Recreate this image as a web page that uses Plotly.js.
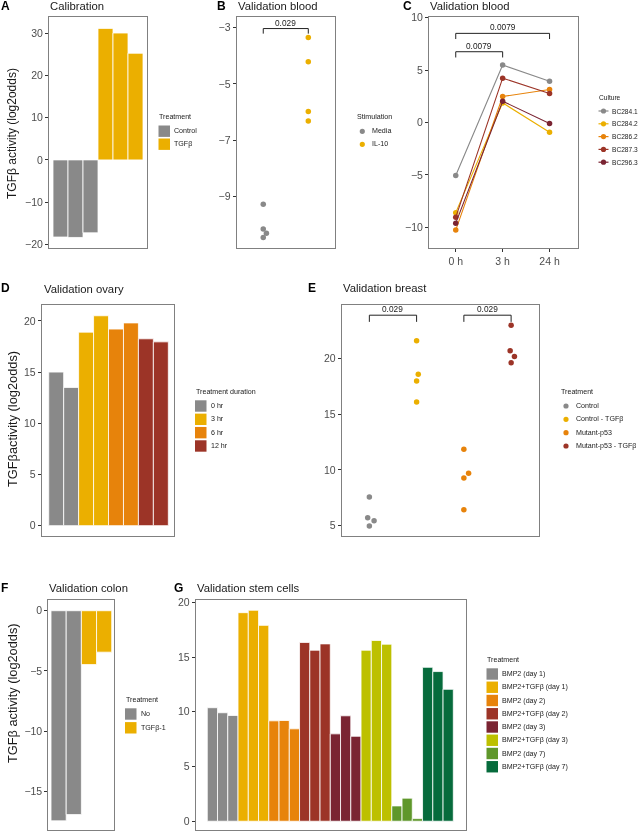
<!DOCTYPE html>
<html>
<head>
<meta charset="utf-8">
<script src="https://cdn.plot.ly/plotly-3.0.1.min.js"></script>
<style>
    html, body { margin: 0; padding: 0; background: #fff; }
    #chart { width: 640px; height: 831px; }
    #chart .main-svg { will-change: transform; }
</style>
</head>
<body>
<div id="chart"></div>
<script>
// A - calibration
const calibGroups = ['Control', 'TGFβ'];
const calibTreatment = ['Control', 'Control', 'Control', 'TGFβ', 'TGFβ', 'TGFβ'];
const calibActivity = [-18.3, -18.4, -17.3, 31.2, 30.1, 25.3];

// B - validation blood (IL-10)
const bloodStimulation = ['Media', 'IL-10'];
const bloodMedia = [-9.27, -10.15, -10.3, -10.45];
const bloodIL10 = [-3.36, -4.22, -5.98, -6.32];
const bloodMediaJitter = [0, 0, 0.07, 0];
const bloodIL10Jitter = [0, 0, 0, 0];
const bloodPValue = '0.029';

// C - validation blood time course
const timeLabels = ['0 h', '3 h', '24 h'];
const cultures = ['BC284.1', 'BC284.2', 'BC286.2', 'BC287.3', 'BC296.3'];
const bc2841 = [-5.05, 5.48, 3.93];
const bc2842 = [-8.6, 1.87, -0.93];
const bc2862 = [-10.26, 2.48, 3.15];
const bc2873 = [-9.05, 4.23, 2.77];
const bc2963 = [-9.6, 2.03, -0.1];
const timePValues = ['0.0079', '0.0079'];

// D - validation ovary
const ovaryGroups = ['0 hr', '3 hr', '6 hr', '12 hr'];
const ovaryDuration = ['0 hr', '0 hr', '3 hr', '3 hr', '6 hr', '6 hr', '12 hr', '12 hr'];
const ovaryActivity = [15.0, 13.5, 18.9, 20.5, 19.2, 19.8, 18.25, 17.95];

// E - validation breast
const breastGroups = ['Control', 'Control - TGFβ', 'Mutant-p53', 'Mutant-p53 - TGFβ'];
const breastControl = [7.58, 5.72, 5.45, 4.97];
const breastControlTGFb = [21.6, 18.6, 17.98, 16.1];
const breastMutant = [11.87, 9.71, 9.29, 6.44];
const breastMutantTGFb = [23.0, 20.7, 20.2, 19.63];
const breastJitter = [[0, -0.035, 0.1, 0], [0, 0.035, 0, 0], [0, 0.1, 0, 0], [0, -0.02, 0.07, 0]];
const breastPValues = ['0.029', '0.029'];

// F - validation colon
const colonGroups = ['No', 'TGFβ-1'];
const colonTreatment = ['No', 'No', 'TGFβ-1', 'TGFβ-1'];
const colonActivity = [-17.44, -16.92, -4.47, -3.44];

// G - validation stem cells (3 replicates per treatment)
const stemGroups = ['BMP2 (day 1)', 'BMP2+TGFβ (day 1)', 'BMP2 (day 2)', 'BMP2+TGFβ (day 2)',
    'BMP2 (day 3)', 'BMP2+TGFβ (day 3)', 'BMP2 (day 7)', 'BMP2+TGFβ (day 7)'];
const stemActivity = [10.37, 9.91, 9.66, 19.05, 19.27, 17.89, 9.17, 9.2, 8.44, 16.33, 15.62, 16.2,
    7.98, 9.63, 7.76, 15.62, 16.51, 16.17, 1.4, 2.11, 0.24, 14.06, 13.67, 12.05];
const stemTreatment = stemGroups.flatMap(g => [g, g, g]);

const grey = '#898989', yellow = '#EBAF00', orange = '#E7830B', red = '#9C3427',
    maroon = '#7A2432', lime = '#BDC000', olive = '#5F972B', green = '#066B3C';
const stemColors = [grey, yellow, orange, red, maroon, lime, olive, green];

const W = 640, H = 831;
const FONT = '"Liberation Sans", Arial, Helvetica, sans-serif';
const px = v => v / W;
const py = v => 1 - v / H;

const traces = [];
const shapes = [];
const annotations = [];
const layout = {
    width: W, height: H,
    margin: {l: 0, r: 0, t: 0, b: 0},
    paper_bgcolor: '#fff', plot_bgcolor: '#fff',
    showlegend: false, barmode: 'overlay',
    font: {family: FONT}
};

function text(x, y, str, size, opts) {
    annotations.push(Object.assign({
        xref: 'paper', yref: 'paper', x: px(x), y: py(y), text: str,
        showarrow: false, xanchor: 'left', yanchor: 'middle', borderpad: 0,
        font: {family: FONT, size: size, color: '#1a1a1a'}
    }, opts || {}));
}

function panel(n, xdom, ydom, xrange, yrange, yticks, xextra) {
    const s = n === 1 ? '' : String(n);
    layout['xaxis' + s] = Object.assign({
        domain: [px(xdom[0]), px(xdom[1])], range: xrange, anchor: 'y' + s,
        showline: true, mirror: true, linecolor: '#808080', linewidth: 1,
        showgrid: false, zeroline: false, showticklabels: false, ticks: '', fixedrange: true
    }, xextra || {});
    layout['yaxis' + s] = {
        domain: [py(ydom[1]), py(ydom[0])], range: yrange, anchor: 'x' + s,
        showline: true, mirror: true, linecolor: '#808080', linewidth: 1,
        showgrid: false, zeroline: false, fixedrange: true,
        tickmode: 'array', tickvals: yticks,
        ticks: 'outside', ticklen: 3, tickwidth: 1, tickcolor: '#333',
        tickfont: {family: FONT, size: 10.5, color: '#4d4d4d'}
    };
}

function bars(n, groups, treatment, values, colors) {
    const s = n === 1 ? '' : String(n);
    groups.forEach((g, gi) => {
        const idx = treatment.map((t, i) => t === g ? i : -1).filter(i => i >= 0);
        traces.push({
            type: 'bar', x: idx, y: idx.map(i => values[i]), width: 1,
            xaxis: 'x' + s, yaxis: 'y' + s, name: g,
            marker: {color: colors[gi], line: {color: '#fff', width: 0.8}}
        });
    });
}

function dots(n, pos, values, jitter, color, name) {
    const s = n === 1 ? '' : String(n);
    traces.push({
        type: 'scatter', mode: 'markers', name: name,
        x: values.map((v, i) => pos + jitter[i]), y: values,
        xaxis: 'x' + s, yaxis: 'y' + s,
        marker: {color: color, size: 5.5}
    });
}

function bracket(n, x0, x1, yTop, yEnd, str) {
    const s = n === 1 ? '' : String(n);
    const ln = {color: '#222', width: 1};
    [[x0, yEnd, x0, yTop], [x0, yTop, x1, yTop], [x1, yTop, x1, yEnd]].forEach(c => {
        shapes.push({type: 'line', xref: 'x' + s, yref: 'y' + s,
            x0: c[0], y0: c[1], x1: c[2], y1: c[3], line: ln});
    });
    annotations.push({
        xref: 'x' + s, yref: 'y' + s, x: (x0 + x1) / 2, y: yTop, text: str,
        showarrow: false, xanchor: 'center', yanchor: 'bottom', yshift: -1,
        font: {family: FONT, size: 8.3, color: '#1a1a1a'}
    });
}

// legend helpers (ggplot-like keys)
function legendRects(x, y0, step, labels, colors, title, titleY) {
    text(x - 0.5, titleY, title, 7.1);
    labels.forEach((l, i) => {
        const y = y0 + i * step;
        shapes.push({type: 'rect', xref: 'paper', yref: 'paper',
            x0: px(x), x1: px(x + 11.5), y0: py(y + 5.7), y1: py(y - 5.7),
            fillcolor: colors[i], line: {width: 0}});
        text(x + 14.5, y, l, 7.1);
    });
}

function legendDots(x, y0, step, labels, colors, title, titleY, withLine, size) {
    const fs = size || 7.1;
    text(x - 6, titleY, title, fs);
    labels.forEach((l, i) => {
        const y = y0 + i * step;
        const r = 2.6;
        if (withLine) {
            shapes.push({type: 'line', xref: 'paper', yref: 'paper',
                x0: px(x - 5), x1: px(x + 5), y0: py(y), y1: py(y),
                line: {color: colors[i], width: 1.2}});
        }
        shapes.push({type: 'circle', xref: 'paper', yref: 'paper',
            x0: px(x - r), x1: px(x + r), y0: py(y + r), y1: py(y - r),
            fillcolor: colors[i], line: {width: 0}});
        text(x + (withLine ? 7.5 : 9), y, l, fs);
    });
}

// ---- A ----
panel(1, [49, 147], [17, 248], [-0.767, 5.767], [-20.9, 33.9], [-20, -10, 0, 10, 20, 30]);
bars(1, calibGroups, calibTreatment, calibActivity, [grey, yellow]);
legendRects(158.5, 131.2, 13, calibGroups, [grey, yellow], 'Treatment', 117.3);

// ---- B ----
panel(2, [236.7, 335.3], [17, 248.3], [-0.59, 1.6], [-10.83, -2.63], [-9, -7, -5, -3]);
dots(2, 0, bloodMedia, bloodMediaJitter, grey, bloodStimulation[0]);
dots(2, 1, bloodIL10, bloodIL10Jitter, yellow, bloodStimulation[1]);
bracket(2, 0, 1, -3.04, -3.22, bloodPValue);
legendDots(362.3, 131.3, 13, bloodStimulation, [grey, yellow], 'Stimulation', 117.3, false);

// ---- C ----
const cultureSeries = [bc2841, bc2842, bc2862, bc2873, bc2963];
const cultureColors = [grey, yellow, orange, red, maroon];
panel(3, [429, 577.7], [16.7, 248.3], [-0.57, 2.6], [-12.0, 10.09], [-10, -5, 0, 5, 10], {
    showticklabels: true, tickmode: 'array', tickvals: [0, 1, 2], ticktext: timeLabels,
    ticks: 'outside', ticklen: 3, tickcolor: '#333',
    tickfont: {family: FONT, size: 10.5, color: '#4d4d4d'}
});
cultures.forEach((c, i) => {
    traces.push({
        type: 'scatter', mode: 'lines+markers', name: c,
        x: timeLabels.map((t, j) => j), y: cultureSeries[i],
        xaxis: 'x3', yaxis: 'y3',
        line: {color: cultureColors[i], width: 1.1},
        marker: {color: cultureColors[i], size: 5.5}
    });
});
bracket(3, 0, 2, 8.5, 7.96, timePValues[0]);
bracket(3, 0, 1, 6.75, 6.2, timePValues[1]);
legendDots(603.5, 111, 12.8, cultures, cultureColors, 'Culture', 97.2, true, 6.6);

// ---- D ----
panel(4, [41.7, 174.3], [304.5, 535.7], [-0.97, 7.9], [-0.98, 21.6], [0, 5, 10, 15, 20]);
bars(4, ovaryGroups, ovaryDuration, ovaryActivity, [grey, yellow, orange, red]);
legendRects(195, 406, 13.33, ovaryGroups, [grey, yellow, orange, red], 'Treatment duration', 392.3);

// ---- E ----
const breastSeries = [breastControl, breastControlTGFb, breastMutant, breastMutantTGFb];
const breastColors = [grey, yellow, orange, red];
panel(5, [341.7, 539], [304.5, 535.7], [-0.585, 3.59], [4.1, 24.86], [5, 10, 15, 20]);
breastGroups.forEach((g, i) => dots(5, i, breastSeries[i], breastJitter[i], breastColors[i], g));
bracket(5, 0, 1, 23.9, 23.3, breastPValues[0]);
bracket(5, 2, 3, 23.9, 23.3, breastPValues[1]);
legendDots(566, 406, 13.33, breastGroups, breastColors, 'Treatment', 392.3, false);

// ---- F ----
panel(6, [48.3, 114.3], [600, 830], [-0.68, 3.67], [-18.2, 0.89], [-15, -10, -5, 0]);
bars(6, colonGroups, colonTreatment, colonActivity, [grey, yellow]);
legendRects(125, 714, 13.8, colonGroups, [grey, yellow], 'Treatment', 700);

// ---- G ----
panel(7, [195.7, 465.7], [600.3, 830], [-1.63, 24.71], [-0.8, 20.18], [0, 5, 10, 15, 20]);
bars(7, stemGroups, stemTreatment, stemActivity, stemColors);
legendRects(486.5, 674, 13.25, stemGroups, stemColors, 'Treatment', 660.3);

// panel letters and titles
const letters = [['A', 0, 6], ['B', 216, 6], ['C', 401.5, 6], ['D', 0, 287.5],
    ['E', 307, 287.5], ['F', 0, 588], ['G', 173, 588]];
letters.forEach(l => text(l[1], l[2], '<b>' + l[0] + '</b>', 12, {font: {family: FONT, size: 12, color: '#000'}}));

const titles = [['Calibration', 48.5, 6], ['Validation blood', 236.5, 6], ['Validation blood', 429, 6],
    ['Validation ovary', 43, 288.5], ['Validation breast', 341.7, 288], ['Validation colon', 48.3, 588],
    ['Validation stem cells', 195.7, 588]];
titles.forEach(t => text(t[1], t[2], t[0], 11.3));

const yTitles = [['TGFβ activity (log2odds)', 12, 134, 12], ['TGFβactivity (log2odds)', 12, 419, 12.8],
    ['TGFβ activity (log2odds)', 12, 693, 12.8]];
yTitles.forEach(t => text(t[1], t[2], t[0], t[3], {textangle: -90, xanchor: 'center', yanchor: 'middle'}));

layout.shapes = shapes;
layout.annotations = annotations;

Plotly.newPlot('chart', traces, layout, {staticPlot: true, displayModeBar: false});
</script>
</body>
</html>
